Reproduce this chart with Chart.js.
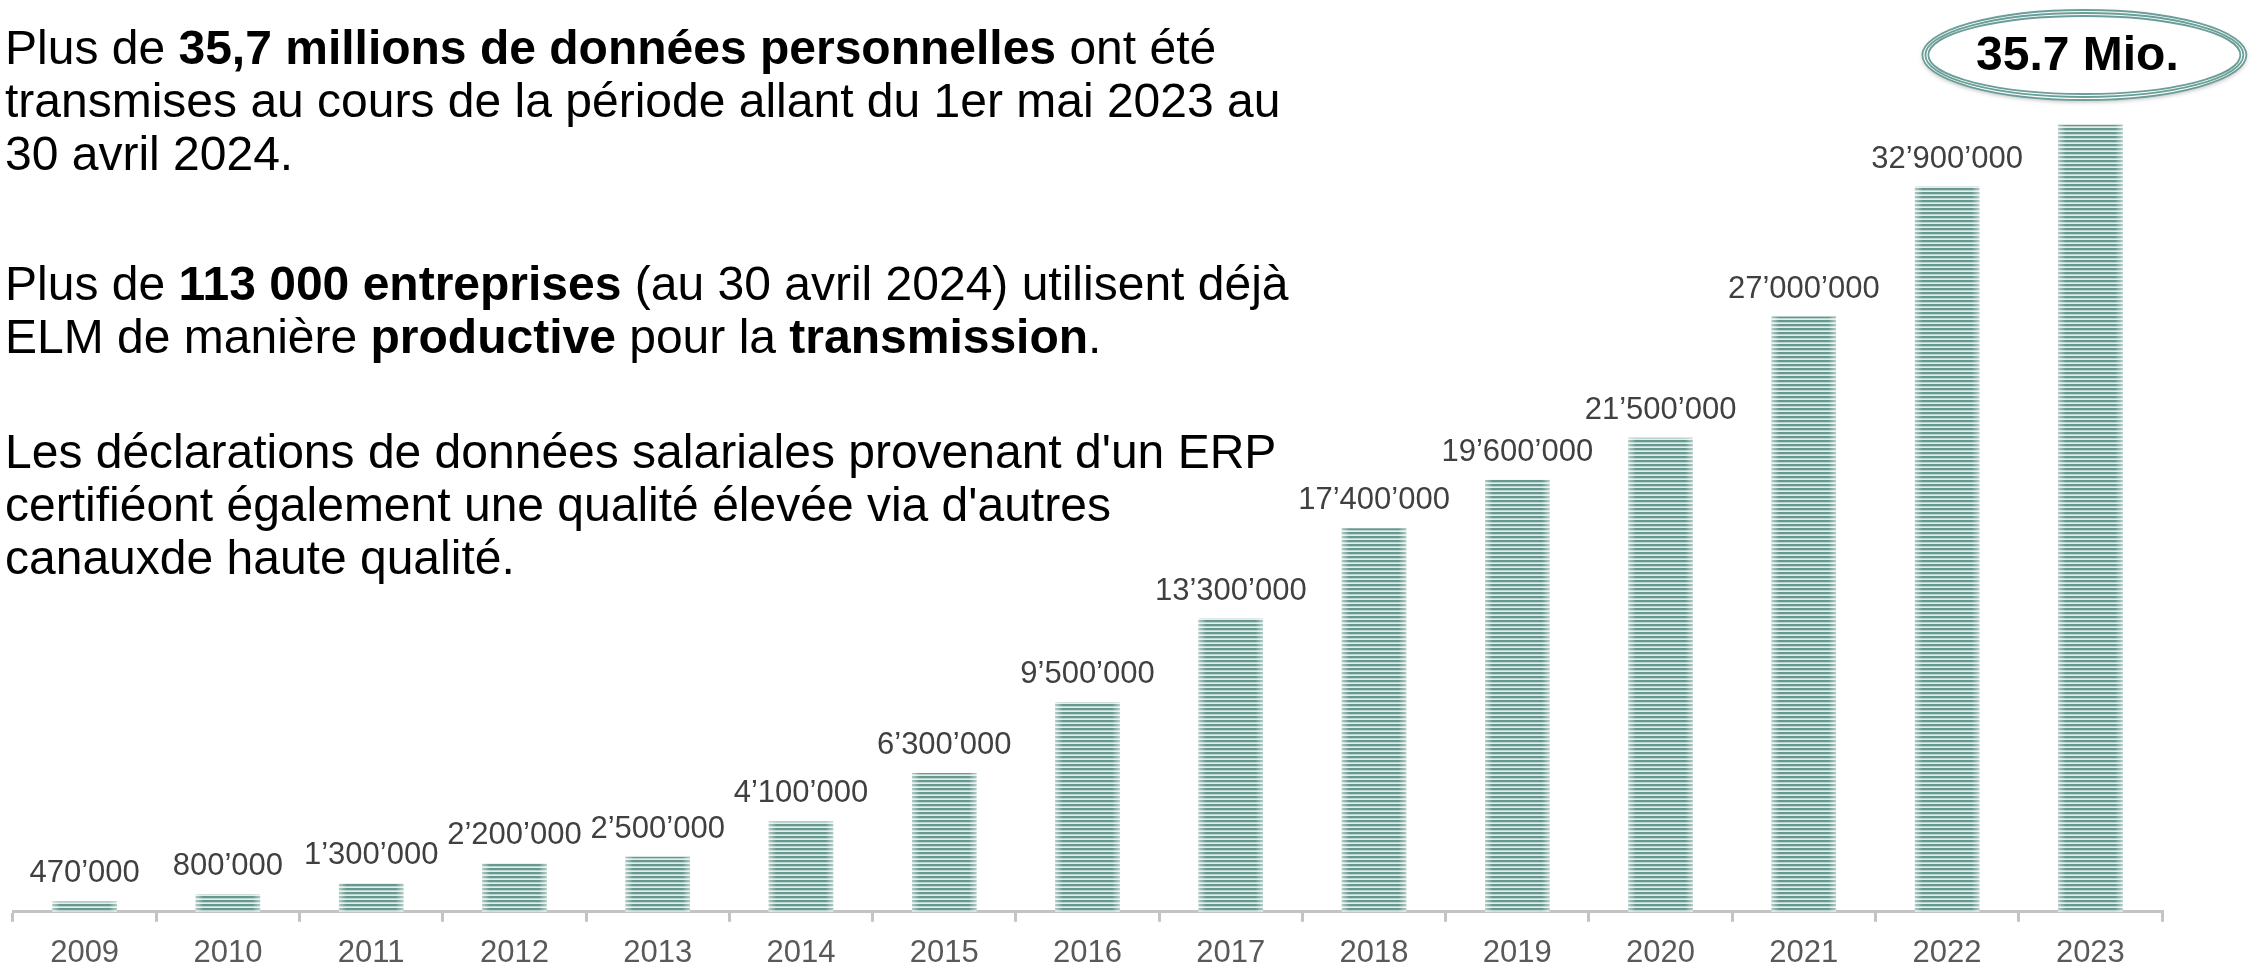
<!DOCTYPE html>
<html>
<head>
<meta charset="utf-8">
<script src="https://cdn.jsdelivr.net/npm/chart.js@4"></script>
<style>
  html, body { margin:0; padding:0; background:#fff; }
  #wrap { position:relative; width:2251px; height:964px; overflow:hidden; }
  #c { position:absolute; left:0; top:0; }
  .para { position:absolute; left:5px; font-family:"Liberation Sans", Arial, sans-serif; font-size:48px; line-height:53px; color:#000; white-space:nowrap; transform-origin:0 0; }
  .para b { font-weight:bold; }
</style>
</head>
<body>
<div id="wrap">
  <canvas id="c" width="2251" height="985"></canvas>
  <div class="para" id="p1" style="top:21px;">Plus de <b>35,7 millions de données personnelles</b> ont été<br>transmises au cours de la période allant du 1er mai 2023 au<br>30 avril 2024.</div>
  <div class="para" id="p2" style="top:257px;">Plus de <b>113 000 entreprises</b> (au 30 avril 2024) utilisent déjà<br>ELM de manière <b>productive</b> pour la <b>transmission</b>.</div>
  <div class="para" id="p3" style="top:425px;">Les déclarations de données salariales provenant d'un ERP<br>certifiéont également une qualité élevée via d'autres<br>canauxde haute qualité.</div>
</div>
<script>
const years = ['2009','2010','2011','2012','2013','2014','2015','2016','2017','2018','2019','2020','2021','2022','2023'];
const values = [470000, 800000, 1300000, 2200000, 2500000, 4100000, 6300000, 9500000, 13300000, 17400000, 19600000, 21500000, 27000000, 32900000, 35700000];
const valueLabels = ['470’000','800’000','1’300’000','2’200’000','2’500’000','4’100’000','6’300’000','9’500’000','13’300’000','17’400’000','19’600’000','21’500’000','27’000’000','32’900’000',''];
const highlightText = '35.7 Mio.';

const ctx = document.getElementById('c').getContext('2d');

// striped pattern
const pc = document.createElement('canvas');
pc.width = 4; pc.height = 4;
const px = pc.getContext('2d');
px.fillStyle = '#e3edeb'; px.fillRect(0,0,4,4);
px.fillStyle = '#65988f'; px.fillRect(0,0,4,2);
px.fillStyle = '#98bab4'; px.fillRect(0,2,4,0.5);
const stripes = ctx.createPattern(pc, 'repeat');

const barDecor = {
  id: 'barDecor',
  afterDatasetsDraw(chart) {
    const c = chart.ctx;
    const meta = chart.getDatasetMeta(0);
    meta.data.forEach((bar) => {
      const left = bar.x - bar.width/2, right = bar.x + bar.width/2;
      const top = bar.y, bottom = bar.base;
      const g = c.createLinearGradient(left, 0, right, 0);
      g.addColorStop(0, 'rgba(255,255,255,0.5)');
      g.addColorStop(0.12, 'rgba(255,255,255,0)');
      g.addColorStop(0.88, 'rgba(255,255,255,0)');
      g.addColorStop(1, 'rgba(255,255,255,0.5)');
      c.save();
      c.fillStyle = g;
      c.fillRect(left, top, right-left, bottom-top);
      c.restore();
    });
  },
  afterDraw(chart) {
    const c = chart.ctx;
    const meta = chart.getDatasetMeta(0);
    c.save();
    c.font = '31px "Liberation Sans", Arial, sans-serif';
    c.fillStyle = '#404040';
    c.textAlign = 'center';
    c.textBaseline = 'alphabetic';
    meta.data.forEach((bar, i) => {
      if (!valueLabels[i]) return;
      c.fillText(valueLabels[i], bar.x, bar.y - 19);
    });
    // highlight ellipse over last bar
    const last = meta.data[meta.data.length - 1];
    const cx = last.x - 6, cy = 55;
    c.shadowColor = 'rgba(0,0,0,0.25)';
    c.shadowBlur = 4; c.shadowOffsetY = 2;
    c.fillStyle = '#ffffff';
    c.beginPath(); c.ellipse(cx, cy, 162, 45, 0, 0, Math.PI*2); c.fill();
    c.shadowColor = 'transparent';
    c.strokeStyle = '#6a9e98';
    c.lineWidth = 1.8;
    [162, 159, 156].forEach((rx, k) => {
      c.beginPath(); c.ellipse(cx, cy, rx, 45 - k*3, 0, 0, Math.PI*2); c.stroke();
    });
    c.fillStyle = '#000';
    c.font = 'bold 48px "Liberation Sans", Arial, sans-serif';
    c.textBaseline = 'middle';
    c.fillText(highlightText, cx - 7, cy + 2);
    c.restore();
  }
};

new Chart(ctx, {
  type: 'bar',
  data: {
    labels: years,
    datasets: [{
      data: values,
      backgroundColor: stripes,
      borderWidth: 0,
      barPercentage: 0.9,
      categoryPercentage: 0.5
    }]
  },
  options: {
    responsive: false,
    animation: false,
    layout: { padding: { left: 13, right: 89, top: 30, bottom: 0 } },
    plugins: { legend: { display: false }, tooltip: { enabled: false } },
    scales: {
      x: {
        offset: true,
        border: { display: true, color: '#c4c4c4', width: 3 },
        grid: { display: true, offset: true, drawOnChartArea: false, drawTicks: true, tickLength: 10, color: '#c4c4c4', lineWidth: 3 },
        ticks: { color: '#595959', font: { family: '"Liberation Sans", Arial, sans-serif', size: 31 }, padding: 13, maxRotation: 0 }
      },
      y: {
        display: false,
        min: 0,
        max: 40000000
      }
    }
  },
  plugins: [barDecor]
});
</script>
</body>
</html>
